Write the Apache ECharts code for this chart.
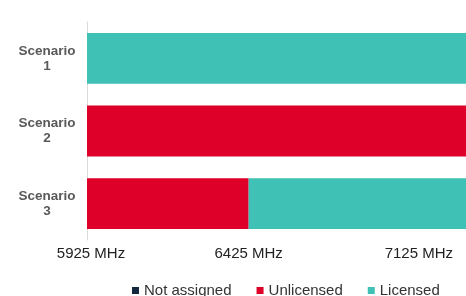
<!DOCTYPE html>
<html>
<head>
<meta charset="utf-8">
<script src="https://cdn.jsdelivr.net/npm/echarts@6/dist/echarts.min.js"></script>
<style>
  html, body { margin: 0; padding: 0; background: #fff; }
  #spectrum { width: 466px; height: 296px; }
</style>
</head>
<body>
<div id="spectrum"></div>
<script>
// band data, widths in MHz counted from the band start
var categories = ['Scenario\n1', 'Scenario\n2', 'Scenario\n3'];
var bandStart = 5925;
var notAssigned = [0, 0, 0];
var unlicensed = [0, 1200, 500];
var licensed = [1200, 0, 700];
var tickValues = [5925, 6425, 7125];
var tickLabels = ['5925 MHz', '6425 MHz', '7125 MHz'];

var myChart = echarts.init(document.getElementById('spectrum'));

var barStyle = function (name, color, data) {
  return {
    name: name,
    type: 'bar',
    stack: 'band',
    barWidth: '70%',
    itemStyle: { color: color },
    data: data
  };
};

var options = {
  animation: false,
  textStyle: { fontFamily: 'Liberation Sans, Arial, sans-serif' },
  grid: {
    left: 87,
    width: 388, // runs a bit past the right edge, like the original
    top: 22,
    bottom: 56,
    outerBoundsMode: 'none'
  },
  legend: {
    left: 127,
    top: 278,
    itemWidth: 7,
    itemHeight: 7,
    itemGap: 25,
    icon: 'rect',
    textStyle: { fontSize: 15, color: '#333' },
    data: ['Not assigned', 'Unlicensed', 'Licensed']
  },
  xAxis: {
    type: 'value',
    min: 0,
    max: tickValues[tickValues.length - 1] - bandStart,
    axisLine: { show: false },
    axisTick: { show: false },
    splitLine: { show: false },
    axisLabel: {
      customValues: tickValues.map(function (v) { return v - bandStart; }),
      alignMaxLabel: 'right',
      margin: 6,
      fontSize: 15,
      color: '#222',
      formatter: function (value) {
        var i = tickValues.indexOf(value + bandStart);
        if (i === 0) return '{first|' + tickLabels[i] + '}';
        if (i === tickValues.length - 1) return '{last|' + tickLabels[i] + '}';
        return tickLabels[i];
      },
      rich: {
        first: { fontSize: 15, color: '#222', padding: [0, 0, 0, 8] },
        last: { fontSize: 15, color: '#222', padding: [0, 22, 0, 0] }
      }
    }
  },
  yAxis: {
    type: 'category',
    inverse: true,
    data: categories,
    axisLine: { show: true, lineStyle: { color: '#d9d9d9', width: 1 } },
    axisTick: { show: false },
    axisLabel: {
      align: 'center',
      margin: 40,
      fontSize: 13.5,
      fontWeight: 'bold',
      lineHeight: 15,
      color: '#595959'
    }
  },
  series: [
    barStyle('Not assigned', '#13283f', notAssigned),
    barStyle('Unlicensed', '#de0029', unlicensed),
    barStyle('Licensed', '#3fc1b6', licensed)
  ]
};

myChart.setOption(options);
</script>
</body>
</html>
